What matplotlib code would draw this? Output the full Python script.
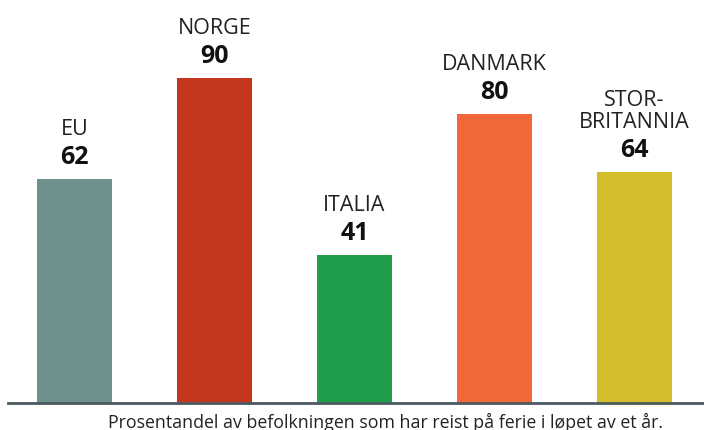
import matplotlib
matplotlib.use("Agg")
import matplotlib.pyplot as plt

categories = ["EU", "NORGE", "ITALIA", "DANMARK", "STOR-\nBRITANNIA"]
values = [62, 90, 41, 80, 64]
colors = ["#6E918E", "#C4361E", "#1F9E4C", "#F2673A", "#D4BD2B"]
caption = "Prosentandel av befolkningen som har reist på ferie i løpet av et år."

plt.rcParams['font.family'] = ['Open Sans', 'DejaVu Sans']

W, H = 704, 430
fig = plt.figure(figsize=(W/100, H/100), dpi=100)
ax = fig.add_axes([8/W, 27/H, 696/W, 403/H])

x = list(range(len(values)))
bars = ax.bar(x, values, width=0.536, color=colors, zorder=2)
ax.set_xlim(-0.475, 4.496)
ax.set_ylim(0, 111.6)

for xi, v, cat in zip(x, values, categories):
    ax.annotate(str(v), (xi, v), xytext=(0, 15), textcoords="offset pixels",
                ha="center", va="baseline", fontsize=18, fontweight="bold", color="#111111")
    ax.annotate(cat, (xi, v), xytext=(0, 39), textcoords="offset pixels",
                ha="center", va="bottom", fontsize=15.5, color="#222222",
                linespacing=1.05)

for s in ["top", "right", "left"]:
    ax.spines[s].set_visible(False)
ax.spines["bottom"].set_color("#4A5A60")
ax.spines["bottom"].set_linewidth(2)
ax.spines["bottom"].set_zorder(3)
ax.set_xticks([])
ax.set_yticks([])

fig.text(385.5/W, 1 - 422/H, caption, ha="center", va="center", fontsize=12.8, color="#222222")

fig.savefig("out.png", dpi=100)
